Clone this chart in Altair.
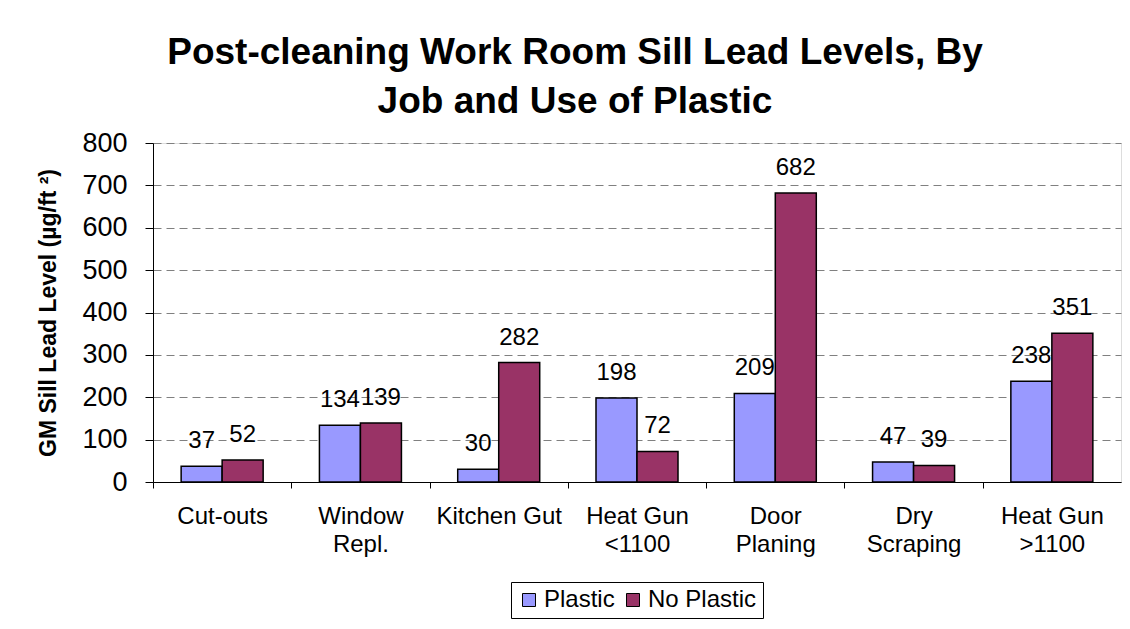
import json
import altair as alt
import pandas as pd

# ---- data ----
jobs = ["Cut-outs", "Window Repl.", "Kitchen Gut", "Heat Gun <1100",
        "Door Planing", "Dry Scraping", "Heat Gun >1100"]
job_label_lines = [["Cut-outs"], ["Window", "Repl."], ["Kitchen Gut"],
                   ["Heat Gun", "<1100"], ["Door", "Planing"],
                   ["Dry", "Scraping"], ["Heat Gun", ">1100"]]
series = ["Plastic", "No Plastic"]
plastic = [37, 134, 30, 198, 209, 47, 238]
no_plastic = [52, 139, 282, 72, 682, 39, 351]
y_ticks = [0, 100, 200, 300, 400, 500, 600, 700, 800]
colors = ["#9999FF", "#993366"]

rows = []
for j, p, n in zip(jobs, plastic, no_plastic):
    rows.append({"job": j, "use": "Plastic", "value": p})
    rows.append({"job": j, "use": "No Plastic", "value": n})
df = pd.DataFrame(rows)

# label expression (multi-line category labels)
expr = "datum.label"
for name, lines in reversed(list(zip(jobs, job_label_lines))):
    expr = f"datum.label == {json.dumps(name)} ? {json.dumps(lines)} : ({expr})"

FONT = "Liberation Sans"
W, H = 968, 339
step = W / len(jobs)

x_enc = alt.X("job:N", sort=jobs,
              scale=alt.Scale(paddingInner=0.407, paddingOuter=0.2035),
              axis=alt.Axis(title=None, labelAngle=0, labelFontSize=24, labelFont=FONT,
                            labelColor="black", labelExpr=expr, labelLineHeight=28,
                            labelPadding=16, tickSize=6, tickColor="black",
                            domainColor="black", domainWidth=1,
                            tickOffset=-step / 2, labelOffset=step / 2,
                            labelOverlap=False, labelBound=False, labelFlush=False))
xo_enc = alt.XOffset("use:N", sort=series, scale=alt.Scale(paddingInner=0, paddingOuter=0))
y_enc = alt.Y("value:Q", scale=alt.Scale(domain=[0, 800], nice=False),
              axis=alt.Axis(values=y_ticks, title="GM Sill Lead Level (µg/ft ²)",
                            titleFontSize=23, titleFont=FONT, titleFontWeight="bold",
                            titleColor="black", titlePadding=21,
                            labelFontSize=27, labelFont=FONT, labelColor="black",
                            labelPadding=18, tickSize=8, tickColor="black",
                            domainColor="black", grid=True, gridDash=[8, 5],
                            gridColor="#808080", gridWidth=1))

bars = alt.Chart(df).mark_bar(stroke="black", strokeWidth=1.5).encode(
    x=x_enc, xOffset=xo_enc, y=y_enc,
    color=alt.Color("use:N", sort=series,
                    scale=alt.Scale(domain=series, range=colors),
                    legend=alt.Legend(orient="none", legendX=358, legendY=439,
                                      direction="horizontal", title=None,
                                      strokeColor="black", fillColor="white",
                                      padding=6, symbolType="square", symbolSize=169,
                                      symbolStrokeColor="black", symbolStrokeWidth=1,
                                      labelFontSize=24, labelFont=FONT, labelColor="black",
                                      columnPadding=6, labelOffset=3)),
)

labels = alt.Chart(df).mark_text(fontSize=24, font=FONT, color="black",
                                 baseline="alphabetic", dy=-18).encode(
    x=alt.X("job:N", sort=jobs), xOffset=alt.XOffset("use:N", sort=series),
    y="value:Q", text="value:Q",
)

chart = alt.layer(bars, labels).properties(
    width=W, height=H,
    autosize="none",
    padding={"left": 145, "top": 135, "right": 1, "bottom": 137},
    title=alt.TitleParams(
        text=["Post-cleaning Work Room Sill Lead Levels, By", "Job and Use of Plastic"],
        fontSize=37, fontWeight="bold", font=FONT, color="black",
        lineHeight=49, anchor="middle", frame="group", dx=-62, offset=8),
).configure_view(stroke="#808080", strokeWidth=1.5).configure(background="white")

chart.save("out.html", embed_options={"renderer": "svg", "actions": False})
